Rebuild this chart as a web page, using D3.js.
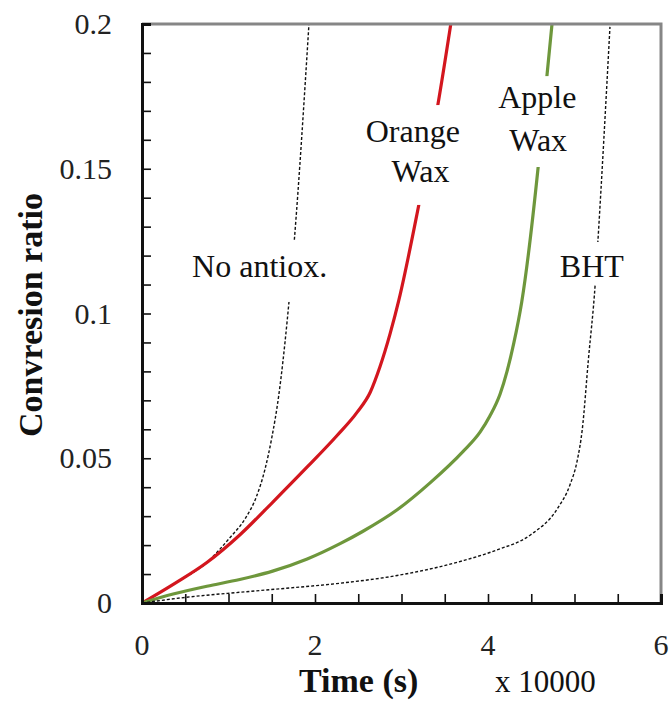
<!DOCTYPE html>
<html>
<head>
<meta charset="utf-8">
<script src="https://cdn.jsdelivr.net/npm/d3@7"></script>
<style>
  body { margin: 0; background: #fff; }
  svg { display: block; }
  text { font-family: "Liberation Serif", "Times New Roman", serif; fill: #111; }
</style>
</head>
<body>
<svg id="chart"></svg>
<script>
// time in units of 10000 s, conversion ratio
const noAntiox = [[0,0],[0.38,0.0068],[0.75,0.014],[1.0,0.022],[1.2,0.0295],[1.32,0.0365],
  [1.42,0.046],[1.50,0.057],[1.58,0.0715],[1.68,0.098],[1.76,0.125],[1.93,0.2]];
const orangeWax = [[0,0],[0.38,0.0068],[0.75,0.014],[1.13,0.0235],[1.51,0.0348],[1.91,0.047],
  [2.25,0.0577],[2.49,0.066],[2.64,0.0729],[2.75,0.0815],[2.87,0.0932],[2.97,0.1047],
  [3.20,0.1375],[3.42,0.172],[3.57,0.2]];
const appleWax = [[0,0],[0.36,0.0031],[0.75,0.0058],[1.13,0.0081],[1.51,0.011],[1.91,0.0152],
  [2.29,0.0205],[2.55,0.0247],[2.95,0.0322],[3.33,0.0415],[3.71,0.0523],[3.91,0.0591],
  [4.02,0.0645],[4.14,0.0722],[4.22,0.080],[4.30,0.090],[4.39,0.104],[4.58,0.1506],
  [4.68,0.1817],[4.74,0.2]];
const bht = [[0,0],[0.55,0.0021],[1.13,0.0037],[1.71,0.0052],[2.25,0.0067],[2.95,0.0095],
  [3.71,0.0146],[4.10,0.0183],[4.49,0.0235],[4.80,0.0325],[4.95,0.041],[5.03,0.049],
  [5.09,0.060],[5.16,0.0839],[5.24,0.1105],[5.27,0.1247],[5.41,0.199]];

const xTickLabels = [0, 2, 4, 6];
const yTickLabels = [0, 0.05, 0.1, 0.15, 0.2];

const width = 672, height = 703;
const margin = { left: 142, right: 11, top: 24, bottom: 100 };

const svg = d3.select("#chart").attr("width", width).attr("height", height);

const x = d3.scaleLinear().domain([0, 6]).range([margin.left, width - margin.right]);
const y = d3.scaleLinear().domain([0, 0.2]).range([height - margin.bottom, margin.top]);

const series = [
  { data: noAntiox, color: "#111", w: 1.4, dash: "3,2" },
  { data: orangeWax, color: "#d3161e", w: 3.2, dash: null },
  { data: appleWax, color: "#6e973c", w: 3.2, dash: null },
  { data: bht, color: "#111", w: 1.4, dash: "3,2" }
];

// labels: lines of text, centre t, baseline r; gap = r range blanked behind label
const labels = [
  { lines: [["No antiox.", 1.36, 0.1126]], gap: [0.1254, 0.104] },
  { lines: [["Orange", 3.13, 0.1592], ["Wax", 3.22, 0.1454]], gap: [0.172, 0.1375] },
  { lines: [["Apple", 4.57, 0.171], ["Wax", 4.58, 0.1561]], gap: [0.182, 0.1506] },
  { lines: [["BHT", 5.20, 0.1126]], gap: [0.1247, 0.11] }
];

svg.append("clipPath").attr("id", "plot")
  .append("rect")
  .attr("x", x(0)).attr("y", y(0.2))
  .attr("width", x(6) - x(0)).attr("height", y(0) - y(0.2));

const line = d3.line()
  .x(d => x(d[0]))
  .y(d => y(d[1]))
  .curve(d3.curveMonotoneX);

const curves = svg.append("g").attr("clip-path", "url(#plot)");
series.forEach(s => {
  curves.append("path")
    .attr("d", line(s.data))
    .attr("fill", "none")
    .attr("stroke", s.color)
    .attr("stroke-width", s.w)
    .attr("stroke-dasharray", s.dash)
    .attr("stroke-linejoin", "round");
});

// label masks + text
const lab = svg.append("g");
labels.forEach(l => {
  const g = lab.append("g");
  const rect = g.append("rect").attr("fill", "#fff");
  l.lines.forEach(([txt, t, r]) => {
    g.append("text")
      .attr("x", x(t)).attr("y", y(r))
      .attr("text-anchor", "middle")
      .style("font-size", "32px")
      .text(txt);
  });
  const texts = g.selectAll("text").nodes().map(n => n.getBBox());
  const x0 = d3.min(texts, b => b.x) - 6, x1 = d3.max(texts, b => b.x + b.width) + 6;
  rect.attr("x", x0).attr("width", x1 - x0)
    .attr("y", y(l.gap[0])).attr("height", y(l.gap[1]) - y(l.gap[0]));
});

// frame: grey top and right
svg.append("path")
  .attr("d", `M${x(0)},${y(0.2)}H${x(6)}V${y(0)}`)
  .attr("fill", "none").attr("stroke", "#868686").attr("stroke-width", 3);

// axes with inward ticks
const xAxis = d3.axisBottom(x).tickValues(d3.range(0, 6.01, 0.5)).tickSize(-9).tickFormat("");
const yAxis = d3.axisLeft(y).tickValues(d3.range(0, 0.2001, 0.01)).tickSize(-9).tickFormat("");

const gx = svg.append("g").attr("transform", `translate(0,${y(0)})`).call(xAxis);
const gy = svg.append("g").attr("transform", `translate(${x(0)},0)`).call(yAxis);
[gx, gy].forEach(g => {
  g.select(".domain").attr("stroke", "#111").attr("stroke-width", 3);
  g.selectAll(".tick line").attr("stroke", "#111").attr("stroke-width", 1.6);
});

// tick labels
svg.append("g").selectAll("text").data(xTickLabels).join("text")
  .attr("x", d => x(d)).attr("y", y(0) + 52)
  .attr("text-anchor", "middle")
  .style("font-size", "30px").style("fill", "#222")
  .text(d => d);

svg.append("g").selectAll("text").data(yTickLabels).join("text")
  .attr("x", x(0) - 30).attr("y", d => y(d) + 10)
  .attr("text-anchor", "end")
  .style("font-size", "30px").style("fill", "#222")
  .text(d => d);

// axis titles
svg.append("text")
  .attr("x", 299).attr("y", 692)
  .style("font-size", "34px").style("font-weight", "bold")
  .text("Time (s)");
svg.append("text")
  .attr("x", 495).attr("y", 692)
  .style("font-size", "31px")
  .text("x 10000");
svg.append("text")
  .attr("transform", `translate(42,315) rotate(-90)`)
  .attr("text-anchor", "middle")
  .style("font-size", "34px").style("font-weight", "bold")
  .text("Convresion ratio");
</script>
</body>
</html>
